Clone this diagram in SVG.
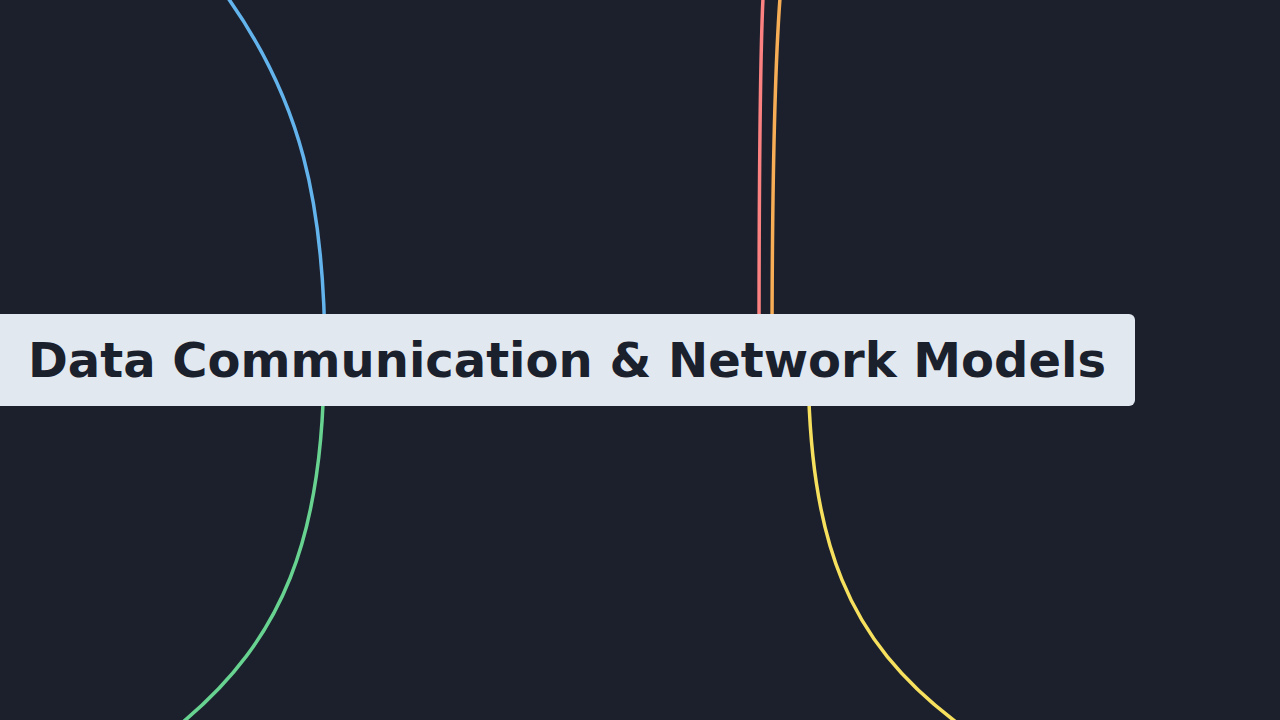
<svg xmlns="http://www.w3.org/2000/svg" width="1280" height="720" viewBox="0 0 1280 720">
  <style>
    .link { fill: none; stroke-width: 3.5; stroke-linecap: butt; }
    .node-box { fill: #e2e8f0; }
    .node-label { font-family: "DejaVu Sans", "Liberation Sans", sans-serif; font-weight: bold; font-size: 48px; fill: #1a202c; }
  </style>
  <rect x="0" y="0" width="1280" height="720" fill="#1b202c"/>
  <g id="connectors">
    <path class="link" stroke="#63b3ed" d="M325 360 C325 200 300 100 228 -2"/>
    <path class="link" stroke="#68d391" d="M324 360 C324 540 281 640 183 722"/>
    <path class="link" stroke="#fc8181" d="M759 360 C759 150 760 60 763 -2"/>
    <path class="link" stroke="#f6ad55" d="M772 360 C772 200 774 80 780 -2"/>
    <path class="link" stroke="#f6e05e" d="M808 360 C809 545 848 640 956 722"/>
  </g>
  <g id="root">
    <rect class="node-box" x="-6" y="314" width="1141" height="92" rx="6" ry="6"/>
    <text class="node-label" x="567" y="377" text-anchor="middle">Data Communication &amp; Network Models</text>
  </g>
</svg>
